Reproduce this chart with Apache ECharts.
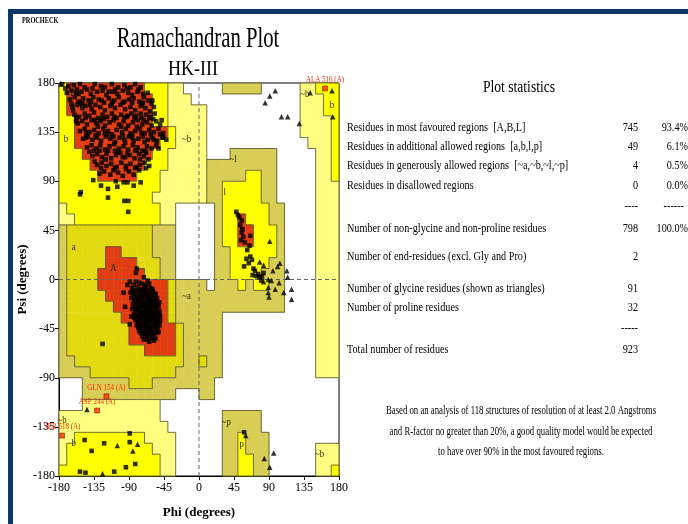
<!DOCTYPE html>
<html>
<head>
<meta charset="utf-8">
<script src="https://cdn.jsdelivr.net/npm/echarts/dist/echarts.min.js"></script>
<style>
  html, body { margin: 0; padding: 0; background: #fff; }
  #chart { width: 688px; height: 524px; }
</style>
</head>
<body>
<div id="chart"></div>
<script>
// ---- Region map: 36 rows (psi 180 -> -180) x 36 columns (phi -180 -> 180), 10 degree cells.
// Run-length coded: '.' disallowed, 'p' generous, 'k' generous (shaded), 'y' allowed, 'o' allowed (shaded), 'r' core
const regionRows = [
  'y1r10y3p2.5k5.5p2y3',
  'y1r11y2p3.14p3y2',
  'y1r11y2p5.12p3y2',
  'y2r10y2p5.12p4y1',
  'y2r12y1p4.12p4y1',
  'y2r11y2p4.13p3y1',
  'y3r9y2p5.3k6.5p2y1',
  'y4r7y3p5k9.5p2y1',
  'y5r5y3p6k5y2k2.5p2y1',
  'y13p6k2y5k2.5p3',
  'y12p7k2y5k2.5p3',
  'p1y12p2.5k1y6k2.4p3',
  'p2y11p2.5k1y2r1y3k2.4p3',
  'k1o11k3.5k1y2r2y3k1.4p3',
  'k1o11k3.5k1y2r2y3k1.4p3',
  'k1o5r2o4k3.5k2y6k1.4p3',
  'k1o5r4o3k2.5k2y5k2.4p3',
  'k1o4r6o2k2.5k2y4k3.4p3',
  'k1o4r9o1k4.1k3y1k1y2k2.4p3',
  'k1o5r8o1k14.4p3',
  'k1o6r7o1k14.4p3',
  'k1o7r6o1k6.12p3',
  'k1o8r6o1k5.12p3',
  'k1o8r6o1k5.12p3',
  'k1o10r4o1k5.12p3',
  'k2o14k2o1k2.12p3',
  'k4o11k6.12p3',
  '.3k6o3k8.16',
  '.3k12.3k2.16',
  '.3p10.23',
  'p13.8k5.10',
  'p14.7k5.10',
  'p2y9p4.6k2y1k3.9',
  'p1y11p3.6k2y1k3.6p3',
  'p1y12p2.6k2y2k2.6p3',
  'y13p2.6k2y2k2.6p2y1'
];

// Region labels [phi, psi, text]
const regionLabels = [
  [-162, 171, 'B'], [-171, 129, 'b'], [-16, 129, '~b'], [-161, 30, 'a'], [-110, 10, 'A'],
  [-16, -15, '~a'], [44, 110, '~l'], [33, 80, 'l'], [55, 46, 'L'], [136, 170, '~b'],
  [171, 160, 'b'], [35, -131, '~p'], [55, -151, 'p'], [155, -160, '~b'], [-176, -129, '~b'],
  [-161, -150, 'b']
];

// Non-glycine residues (squares) [phi, psi]
const betaSquares = [
  [-176,179],[-168,177],[-161,178],[-153,179],[-147,176],[-134,179],[-126,177],[-112,179],[-104,176],[-96,178],[-82,179],[-75,176],
  [-170,171],[-164,173],[-158,170],[-151,172],[-144,174],[-139,170],[-131,172],[-124,173],[-119,169],[-111,172],[-105,170],[-98,173],[-91,171],[-86,169],[-79,172],[-72,170],[-66,171],
  [-166,165],[-160,167],[-155,163],[-149,166],[-142,164],[-136,167],[-129,165],[-122,162],[-116,166],[-109,164],[-103,167],[-96,163],[-90,165],[-84,166],[-77,163],[-71,167],[-65,164],[-61,161],
  [-163,158],[-157,160],[-150,157],[-146,159],[-138,156],[-133,160],[-127,158],[-121,155],[-114,159],[-108,157],[-101,160],[-95,156],[-88,158],[-82,155],[-75,159],[-69,157],[-63,154],[-58,158],
  [-160,151],[-154,149],[-147,152],[-141,150],[-135,153],[-130,148],[-124,151],[-118,149],[-112,152],[-106,148],[-100,151],[-93,149],[-87,152],[-81,150],[-74,148],[-68,151],[-62,149],[-57,152],
  [-156,143],[-150,145],[-144,142],[-138,146],[-132,143],[-127,145],[-121,141],[-115,144],[-110,146],[-103,142],[-97,145],[-91,141],[-85,144],[-79,146],[-73,142],[-67,144],[-61,141],[-55,145],[-50,142],
  [-153,136],[-147,138],[-141,135],[-135,137],[-129,134],[-123,138],[-117,136],[-112,133],[-106,137],[-99,135],[-94,138],[-88,134],[-82,136],[-76,138],[-70,134],[-64,137],[-58,135],[-52,138],[-46,134],
  [-149,129],[-143,131],[-137,128],[-131,130],[-126,127],[-120,131],[-114,129],[-108,126],[-102,130],[-96,128],[-90,131],[-84,127],[-78,129],[-72,131],[-66,128],[-60,130],[-54,127],[-47,130],[-42,128],
  [-144,121],[-138,123],[-132,120],[-127,123],[-121,119],[-115,122],[-109,124],[-103,120],[-97,122],[-91,119],[-85,123],[-79,121],[-73,118],[-67,122],[-61,120],[-55,123],
  [-137,113],[-131,115],[-125,112],[-119,115],[-113,111],[-107,114],[-101,116],[-95,112],[-89,114],[-83,111],[-77,115],[-71,113],[-65,110],
  [-131,105],[-125,107],[-119,104],[-113,106],[-106,103],[-100,107],[-94,104],[-88,106],[-82,102],[-76,105],[-70,107],[-64,104],
  [-128,97],[-122,99],[-114,96],[-104,98],[-98,95],[-90,99],[-84,96],[-77,100],[-68,102],
  [-140,160],[-125,147],[-112,161],[-100,140],[-95,125],[-118,133],[-130,140],[-108,118],[-86,132],[-92,150],[-80,140],[-70,126],
  [-75,152],[-135,118],[-145,130],[-155,170],[-150,162],[-158,145],[-162,155],[-116,172],[-88,176],[-72,162],[-64,148],[-58,128],
  [-52,120],[-110,100],[-120,110],[-134,108],[-98,112],[-82,118],[-76,110],[-68,116],
  [-172,175],[-157,174],[-137,175],[-121,176],[-108,174],[-92,175],[-78,174],
  [-164,161],[-152,161],[-139,163],[-125,164],[-111,163],[-98,162],[-86,162],[-73,161],[-60,164],
  [-158,148],[-146,148],[-134,146],[-122,147],[-109,149],[-96,148],[-83,148],[-71,146],[-59,147],[-48,146],
  [-145,134],[-133,132],[-121,134],[-110,131],[-98,132],[-86,130],[-74,134],[-62,133],[-50,133],
  [-141,117],[-128,118],[-117,118],[-104,117],[-92,116],[-80,118],[-69,118],
  [-126,102],[-108,102],[-94,101],[-80,103]
];
const looseSquares = [
  [-136,91],[-126,86],[-117,83],[-107,90],[-105,85],[-97,89],[-92,89],[-84,86],[-75,89],[-152,80],[-153,78],
  [-117,75],[-96,72],[-91,72],[-91,62],[-46,130],[-124,-59],
  [-147,-147],[-89,-141],[-89,-149],[-122,-150],[-138,-157],[-94,-172],[-82,-169],[-109,-176],[-153,-176],[-146,-177],
  [58,-140]
];
const alphaSquares = [
  [-81,-2],[-73,-4],[-66,-1],
  [-86,-8],[-79,-7],[-74,-9],[-68,-6],[-62,-8],
  [-88,-12],[-83,-13],[-78,-11],[-73,-14],[-69,-12],[-64,-13],[-59,-11],
  [-87,-17],[-82,-18],[-77,-16],[-72,-17],[-67,-19],[-63,-16],[-58,-18],[-54,-17],
  [-85,-22],[-80,-21],[-76,-23],[-71,-22],[-66,-21],[-62,-24],[-57,-22],[-53,-23],
  [-86,-27],[-81,-28],[-77,-26],[-72,-27],[-68,-29],[-64,-26],[-60,-28],[-55,-27],[-51,-29],
  [-84,-32],[-79,-33],[-75,-31],[-70,-32],[-66,-34],[-62,-31],[-58,-33],[-54,-32],[-50,-34],
  [-82,-37],[-78,-38],[-73,-36],[-69,-37],[-65,-39],[-61,-36],[-57,-38],[-53,-37],
  [-80,-42],[-76,-43],[-71,-41],[-67,-42],[-63,-44],[-59,-41],[-55,-43],[-51,-42],
  [-77,-47],[-72,-48],[-68,-46],[-64,-47],[-60,-49],[-56,-47],[-52,-48],
  [-73,-52],[-68,-53],[-64,-51],[-60,-52],[-56,-54],
  [-75,-19],[-70,-25],[-65,-30],[-60,-35],[-68,-40],[-74,-30],[-79,-24],[-62,-45],[-57,-30],[-72,-12],[-66,-16],[-61,-21],
  [-83,-35],[-77,-40],[-69,-50],[-64,-36],[-71,-44],[-58,-25],[-53,-40],[-76,-34],[-80,-27],[-67,-27],[-63,-20],[-70,-8],
  [-97,-12],[-85,-11],[-87,-34],[-89,-41],[-80,10],[-81,6],[-89,-2],[-71,2],[-95,-25],[-92,-5],
  [-84,-5],[-77,-3],[-70,-5],[-64,-4],
  [-83,-10],[-76,-10],[-71,-9],[-66,-10],[-60,-9],[-56,-13],
  [-85,-15],[-80,-15],[-75,-14],[-70,-15],[-65,-16],[-61,-14],[-56,-15],
  [-83,-20],[-78,-19],[-73,-20],[-68,-21],[-64,-19],[-59,-20],[-55,-20],[-51,-21],
  [-84,-25],[-79,-25],[-74,-24],[-69,-24],[-65,-23],[-61,-25],[-56,-25],[-52,-25],
  [-82,-30],[-77,-29],[-72,-30],[-68,-31],[-63,-29],[-59,-30],[-55,-30],[-51,-31],
  [-81,-34],[-77,-35],[-73,-33],[-68,-35],[-63,-33],[-59,-34],[-56,-35],[-52,-34],
  [-79,-39],[-75,-40],[-71,-38],[-66,-37],[-62,-39],[-58,-39],[-54,-39],[-50,-38],
  [-78,-44],[-74,-45],[-69,-45],[-65,-44],[-61,-43],[-57,-44],[-53,-45],
  [-75,-49],[-70,-50],[-66,-49],[-62,-48],[-58,-50],[-54,-49],
  [-71,-55],[-66,-55],[-62,-54],[-58,-56],[-64,-57]
];
const lSquares = [
  [48,62],[52,57],[55,54],[56,46],[55,43],[66,40],[54,36],[59,34],[65,31],[61,19],[66,21],[68,18],[58,12],
  [70,10],[76,5],[81,3],[83,6],[78,2],[50,59],[53,50],[57,39],[62,27],[64,15],[72,8],[74,3],[80,-1],[69,4]
];
// Glycine residues (triangles) [phi, psi]
const glycineTriangles = [
  [-178,179],[98,173],[91,168],[85,162],[106,149],[114,149],[129,143],[143,171],[171,173],[172,149],
  [91,35],[78,16],[83,13],[95,8],[101,12],[104,15],[113,8],[114,2],[89,0],[93,-1],[103,-3],[98,-9],
  [89,-7],[89,-12],[90,-16],[83,-2],[109,-12],[119,-9],[119,-18],
  [-144,-119],[-105,-152],[-79,-151],[-85,-157],[-124,-178],
  [60,-143],[96,-159],[84,-164],[91,-172]
];
// Residues in generously allowed regions [phi, psi, name]
const flagged = [
  [162, 175, 'ALA 516 (A)'],
  [-119, -107, 'GLN 154 (A)'],
  [-131, -120, 'ASP 244 (A)'],
  [-176, -143, 'SER 518 (A)']
];

// Statistics panel rows [label, count, percent]
const statRows = [
  ['Residues in most favoured regions  [A,B,L]', '745', '93.4%'],
  ['Residues in additional allowed regions  [a,b,l,p]', '49', '6.1%'],
  ['Residues in generously allowed regions  [~a,~b,~l,~p]', '4', '0.5%'],
  ['Residues in disallowed regions', '0', '0.0%']
];
const countRows = [
  ['Number of non-glycine and non-proline residues', '798', '100.0%'],
  ['Number of end-residues (excl. Gly and Pro)', '2', ''],
  ['Number of glycine residues (shown as triangles)', '91', ''],
  ['Number of proline residues', '32', ''],
  ['Total number of residues', '923', '']
];
const footnote = [
  'Based on an analysis of 118 structures of resolution of at least 2.0 Angstroms',
  'and R-factor no greater than 20%, a good quality model would be expected',
  'to have over 90% in the most favoured regions.'
];

// ---- styling
const SERIF = '"Liberation Serif", "DejaVu Serif", serif';
const NAVY = '#0a3768';
const CODES = '.pkyor';
const regionFill = { p: '#ffff80', k: '#d8cd55', y: '#ffff00', o: '#e2da0e', r: '#e23c12' };

function parseRow(s) {
  let out = '';
  s.replace(/([.pkyor])(\d+)/g, (m, ch, n) => { out += ch.repeat(+n); return m; });
  while (out.length < 36) out += '.';
  return out.slice(0, 36);
}
const grid = regionRows.map(parseRow);

const cells = [];
const edges = [];
for (let r = 0; r < 36; r++) {
  for (let c = 0; c < 36; c++) {
    const a = grid[r][c];
    const phi0 = -180 + c * 10, psi0 = 180 - r * 10;
    if (a !== '.') cells.push([phi0, psi0, phi0 + 10, psi0 - 10, CODES.indexOf(a)]);
    const right = c < 35 ? grid[r][c + 1] : '.';
    if (a !== right) edges.push([phi0 + 10, psi0, phi0 + 10, psi0 - 10]);
    const below = r < 35 ? grid[r + 1][c] : '.';
    if (a !== below) edges.push([phi0, psi0 - 10, phi0 + 10, psi0 - 10]);
    if (c === 0 && a !== '.') edges.push([phi0, psi0, phi0, psi0 - 10]);
    if (r === 0 && a !== '.') edges.push([phi0, psi0, phi0 + 10, psi0]);
  }
}

function scaledText(x, y, text, size, opts) {
  opts = opts || {};
  return {
    type: 'text', x: x, y: y, scaleX: opts.sx || 1, z: 10,
    style: {
      text: text,
      font: (opts.weight || 'normal') + ' ' + size + 'px ' + SERIF,
      fill: opts.color || '#000',
      textAlign: opts.align || 'left', align: opts.align || 'left',
      textVerticalAlign: 'middle', verticalAlign: 'middle'
    }
  };
}

const graphics = [
  { type: 'rect', shape: { x: 8, y: 9, width: 680, height: 5 }, style: { fill: NAVY } },
  { type: 'rect', shape: { x: 8, y: 9, width: 5, height: 515 }, style: { fill: NAVY } },
  scaledText(22, 20.5, 'PROCHECK', 9, { weight: 'bold', sx: 0.7 }),
  scaledText(198, 39, 'Ramachandran Plot', 30, { align: 'center', sx: 0.69 }),
  scaledText(193, 69, 'HK-III', 22, { align: 'center', sx: 0.82 }),
  scaledText(519, 88, 'Plot statistics', 17, { align: 'center', sx: 0.8 })
];
const statY = [128, 147, 166, 186];
statRows.forEach((row, i) => {
  graphics.push(scaledText(347, statY[i], row[0], 12, { sx: 0.85 }));
  graphics.push(scaledText(638, statY[i], row[1], 12, { align: 'right', sx: 0.85 }));
  graphics.push(scaledText(688, statY[i], row[2], 12, { align: 'right', sx: 0.85 }));
});
graphics.push(scaledText(638, 207, '----', 12, { align: 'right', sx: 0.85 }));
graphics.push(scaledText(684, 207, '------', 12, { align: 'right', sx: 0.85 }));
const countY = [229, 257, 289, 308, 350];
countRows.forEach((row, i) => {
  graphics.push(scaledText(347, countY[i], row[0], 12, { sx: 0.85 }));
  graphics.push(scaledText(638, countY[i], row[1], 12, { align: 'right', sx: 0.85 }));
  if (row[2]) graphics.push(scaledText(688, countY[i], row[2], 12, { align: 'right', sx: 0.85 }));
});
graphics.push(scaledText(638, 329, '-----', 12, { align: 'right', sx: 0.85 }));
const footY = [411, 432, 452];
footnote.forEach((line, i) => {
  graphics.push(scaledText(521, footY[i], line, 11.5, { align: 'center', sx: 0.76 }));
});

const chart = echarts.init(document.getElementById('chart'));

const axisCommon = {
  type: 'value', min: -180, max: 180, interval: 45,
  axisLine: { show: true, onZero: false, lineStyle: { color: '#000', width: 1 } },
  axisTick: { show: true, length: 4, lineStyle: { color: '#000' } },
  splitLine: { show: false },
  axisLabel: { color: '#000', fontFamily: SERIF, fontSize: 12 },
  nameLocation: 'middle',
  nameTextStyle: { color: '#000', fontFamily: SERIF, fontSize: 13, fontWeight: 'bold' }
};

chart.setOption({
  animation: false,
  backgroundColor: '#fff',
  grid: { left: 59, top: 83, width: 280, height: 404, show: true, borderColor: '#000', borderWidth: 1, backgroundColor: 'transparent' },
  xAxis: Object.assign({}, axisCommon, { name: 'Phi (degrees)', nameGap: 30, axisLabel: Object.assign({}, axisCommon.axisLabel, { margin: 6 }) }),
  yAxis: Object.assign({}, axisCommon, { name: 'Psi (degrees)', nameGap: 30, nameRotate: 90, axisLabel: Object.assign({}, axisCommon.axisLabel, { margin: 4 }) }),
  graphic: graphics,
  series: [
    {
      type: 'custom', name: 'regions', z: 1, silent: true,
      dimensions: ['phi0', 'psi0', 'phi1', 'psi1', 'code'],
      encode: { x: [0, 2], y: [1, 3] },
      data: cells,
      renderItem: function (params, api) {
        const a = api.coord([api.value(0), api.value(1)]);
        const b = api.coord([api.value(2), api.value(3)]);
        const fill = regionFill[CODES[api.value(4)]];
        return { type: 'rect', shape: { x: a[0], y: a[1], width: b[0] - a[0], height: b[1] - a[1] },
                 style: { fill: fill, stroke: fill, lineWidth: 0.5 } };
      }
    },
    {
      type: 'custom', name: 'borders', z: 2, silent: true,
      dimensions: ['phiA', 'psiA', 'phiB', 'psiB'],
      encode: { x: [0, 2], y: [1, 3] },
      data: edges,
      renderItem: function (params, api) {
        const a = api.coord([api.value(0), api.value(1)]);
        const b = api.coord([api.value(2), api.value(3)]);
        return { type: 'line', shape: { x1: a[0], y1: a[1], x2: b[0], y2: b[1] },
                 style: { stroke: '#4d4a30', lineWidth: 0.8 } };
      }
    },
    {
      type: 'line', name: 'phi0', z: 3, silent: true, symbol: 'none',
      data: [[0, -180], [0, 180]],
      lineStyle: { color: '#666', width: 1, type: [4, 3] }
    },
    {
      type: 'line', name: 'psi0', z: 3, silent: true, symbol: 'none',
      data: [[-180, 0], [180, 0]],
      lineStyle: { color: '#666', width: 1, type: [4, 3] }
    },
    {
      type: 'custom', name: 'region labels', z: 3, silent: true,
      encode: { x: 0, y: 1 },
      data: regionLabels.map(d => [d[0], d[1]]),
      renderItem: function (params, api) {
        const p = api.coord([api.value(0), api.value(1)]);
        return { type: 'text', x: p[0], y: p[1], scaleX: 0.8,
                 style: { text: regionLabels[params.dataIndex][2], font: '11px ' + SERIF, fill: '#2a2600',
                          textAlign: 'center', align: 'center', textVerticalAlign: 'middle', verticalAlign: 'middle' } };
      }
    },
    {
      type: 'scatter', name: 'non-glycine', z: 5, symbol: 'rect', symbolSize: 4.6,
      itemStyle: { color: '#000' },
      data: betaSquares.concat(looseSquares, alphaSquares, lSquares)
    },
    {
      type: 'scatter', name: 'glycine', z: 5, symbol: 'triangle', symbolSize: 5.5,
      itemStyle: { color: '#000' },
      data: glycineTriangles
    },
    {
      type: 'scatter', name: 'flagged', z: 6, symbol: 'rect', symbolSize: 5,
      itemStyle: { color: '#ff2a00', borderColor: '#600', borderWidth: 0.6 },
      data: flagged.map(d => [d[0], d[1]])
    },
    {
      type: 'custom', name: 'flagged labels', z: 7, silent: true,
      encode: { x: 0, y: 1 },
      data: flagged.map(d => [d[0], d[1]]),
      renderItem: function (params, api) {
        const p = api.coord([api.value(0), api.value(1)]);
        return { type: 'text', x: p[0], y: p[1] - 9, scaleX: 0.78,
                 style: { text: flagged[params.dataIndex][2], font: '9px ' + SERIF, fill: '#ff2a00',
                          textAlign: 'center', align: 'center', textVerticalAlign: 'middle', verticalAlign: 'middle' } };
      }
    }
  ]
});
</script>
</body>
</html>
